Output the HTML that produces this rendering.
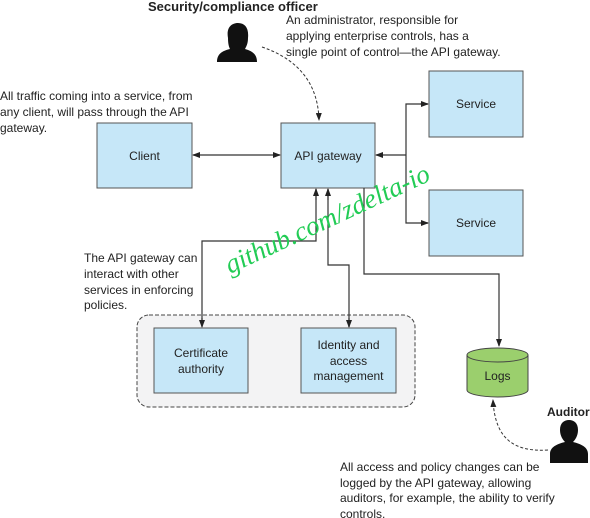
<!DOCTYPE html>
<html><head><meta charset="utf-8"><style>
html,body{margin:0;padding:0;background:#fff;}
svg{display:block;font-family:"Liberation Sans",Arial,sans-serif;}
</style></head><body>
<svg width="590" height="518" viewBox="0 0 590 518" xmlns="http://www.w3.org/2000/svg">
<defs>
<marker id="a" markerWidth="8" markerHeight="6" refX="7" refY="3" orient="auto-start-reverse" markerUnits="userSpaceOnUse">
<path d="M0,0 L8,3 L0,6 z" fill="#222"/></marker>
</defs>
<g font-size="12" fill="#222">
<text x="148" y="11" font-weight="bold" font-size="13">Security/compliance officer</text>
<text x="286" y="24">An administrator, responsible for</text>
<text x="286" y="40">applying enterprise controls, has a</text>
<text x="286" y="56">single point of control—the API gateway.</text>
<text x="0" y="100">All traffic coming into a service, from</text>
<text x="0" y="116">any client, will pass through the API</text>
<text x="0" y="132">gateway.</text>
<text x="84" y="262">The API gateway can</text>
<text x="84" y="278">interact with other</text>
<text x="84" y="294">services in enforcing</text>
<text x="84" y="309">policies.</text>
<text x="547" y="416" font-weight="bold" font-size="12">Auditor</text>
<text x="340" y="471">All access and policy changes can be</text>
<text x="340" y="487">logged by the API gateway, allowing</text>
<text x="340" y="502">auditors, for example, the ability to verify</text>
<text x="340" y="518">controls.</text>
</g>
<rect x="137" y="315" width="278" height="92" rx="12" fill="#f3f3f4" stroke="#444" stroke-dasharray="4,2"/>
<g fill="#c6e7f8" stroke="#555" stroke-width="1">
<rect x="97" y="123" width="95" height="65"/>
<rect x="281" y="123" width="94" height="65"/>
<rect x="429" y="71" width="94" height="66"/>
<rect x="429" y="190" width="94" height="66"/>
<rect x="154" y="328" width="94" height="65"/>
<rect x="301" y="328" width="95" height="65"/>
</g>
<g font-size="12" fill="#222" text-anchor="middle">
<text x="144.5" y="160">Client</text>
<text x="328" y="160">API gateway</text>
<text x="476" y="108">Service</text>
<text x="476" y="227">Service</text>
<text x="201" y="357">Certificate</text>
<text x="201" y="373">authority</text>
<text x="348.5" y="349">Identity and</text>
<text x="348.5" y="365">access</text>
<text x="348.5" y="380">management</text>
</g>
<g stroke="#333" stroke-width="1.2" fill="none">
<line x1="193" y1="155" x2="280" y2="155" marker-end="url(#a)" marker-start="url(#a)" />
<line x1="406" y1="155" x2="376" y2="155" marker-end="url(#a)"/>
<polyline points="428,104 406,104 406,223 428,223" />
<line x1="420" y1="104" x2="428" y2="104" marker-end="url(#a)"/>
<line x1="420" y1="223" x2="428" y2="223" marker-end="url(#a)"/>
<polyline points="202,326 202,241 316,241 316,189"/>
<line x1="316" y1="200" x2="316" y2="189" marker-end="url(#a)"/>
<line x1="202" y1="318" x2="202" y2="327" marker-end="url(#a)"/>
<polyline points="328,189 328,265 349,265 349,327"/>
<line x1="328" y1="200" x2="328" y2="189" marker-end="url(#a)"/>
<line x1="349" y1="318" x2="349" y2="327" marker-end="url(#a)"/>
<polyline points="364,188 364,274 499,274 499,346" marker-end="url(#a)"/>
</g>
<g stroke="#333" stroke-width="1" fill="none" stroke-dasharray="3,2">
<path d="M262,47 C300,60 318,85 319,120" marker-end="url(#a)"/>
<path d="M548,450 C515,452 495,440 493,400" marker-end="url(#a)"/>
</g>
<g stroke="#444" stroke-width="1" fill="#9bcf6d">
<path d="M467,355 L467,390 A30.5,7 0 0 0 528,390 L528,355"/>
<ellipse cx="497.5" cy="355" rx="30.5" ry="7"/>
</g>
<text x="497.5" y="380" font-size="12" text-anchor="middle" fill="#222">Logs</text>
<g fill="#111">
<path d="M228,38 C226,27 232,23 238,23 C245,23 249,28 248,38 C248,44 246,47 245,49 C252,51 257,54 257,62 L217,62 C217,54 222,51 230,49 C229,47 228,44 228,38 z"/>
<path d="M560,430 C560,423 564,420 569,420 C574,420 578,423 578,430 C578,436 575,440 573,442 C581,444 588,447 588,454 L588,463 L550,463 L550,454 C550,447 557,444 565,442 C563,440 560,436 560,430 z"/>
</g>
<text x="0" y="0" font-family="Liberation Serif,serif" font-style="italic" font-size="27" fill="#22cc55" transform="translate(230,274) rotate(-25)">github.com/zdelta-io</text>
</svg>
</body></html>
